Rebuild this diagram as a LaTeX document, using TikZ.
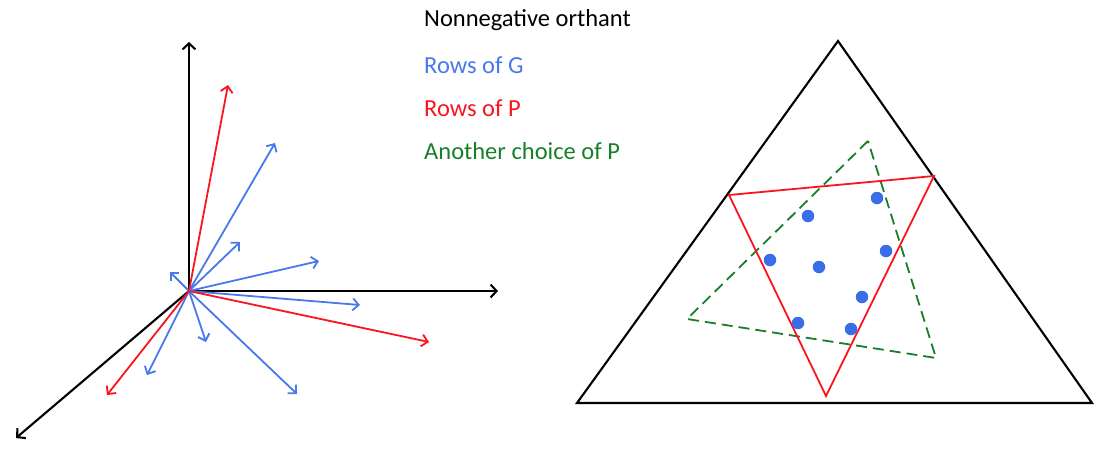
\documentclass[tikz,border=0pt]{standalone}
\usepackage{fontspec}
\setmainfont{Carlito}
\usetikzlibrary{arrows.meta}
\definecolor{gblue}{RGB}{72,120,235}
\definecolor{dotblue}{RGB}{58,110,232}
\definecolor{pred}{RGB}{250,20,30}
\definecolor{pgreen}{RGB}{22,128,40}
\tikzset{
  axis/.style={draw=black,line width=2.1pt,-{Straight Barb[length=6pt,width=13pt,line width=2.1pt]}},
  gvec/.style={draw=gblue,line width=1.8pt,-{Straight Barb[length=6pt,width=12pt,line width=1.8pt]}},
  pvec/.style={draw=pred,line width=1.8pt,-{Straight Barb[length=6pt,width=12pt,line width=1.8pt]}},
  simplex/.style={draw=black,line width=2.1pt,line join=miter},
  ptri/.style={draw=pred,line width=1.8pt},
  alttri/.style={draw=pgreen,line width=1.8pt,dash pattern=on 11pt off 6pt},
  dot/.style={circle,fill=dotblue,inner sep=0pt,minimum size=12.5pt},
  legend/.style={anchor=west,inner sep=0pt,font=\fontsize{24.5}{28}\selectfont}
}
\begin{document}
\begin{tikzpicture}[x=1pt,y=-1pt]
\useasboundingbox (0,0) rectangle (1094,448);
% orthant axes
\coordinate (O) at (189,291);
\coordinate (ax) at (498,291);
\coordinate (ay) at (189,42);
\coordinate (az) at (16,438);
\draw[axis] (O) -- (ay);
\draw[axis] (O) -- (ax);
\draw[axis] (O) -- (az);
% rows of G
\coordinate (g1) at (275,143);
\coordinate (g2) at (240,242);
\coordinate (g3) at (319,261);
\coordinate (g4) at (360,305);
\coordinate (g5) at (170,272);
\coordinate (g6) at (206,342);
\coordinate (g7) at (147,375);
\coordinate (g8) at (297,394);
\foreach \g in {g1,g2,g3,g4,g5,g6,g7,g8} \draw[gvec] (O) -- (\g);
% rows of P
\coordinate (p1) at (228,85);
\coordinate (p2) at (429,342);
\coordinate (p3) at (107,395);
\foreach \p in {p1,p2,p3} \draw[pvec] (O) -- (\p);
% legend
\node[legend,text=black] (l1) at (424,20) {Nonnegative orthant};
\node[legend,text=gblue] (l2) at (424,65) {Rows of G};
\node[legend,text=pred] (l3) at (424,108) {Rows of P};
\node[legend,text=pgreen] (l4) at (424,151) {Another choice of P};
% simplex
\coordinate (s1) at (838,41);
\coordinate (s2) at (577,403);
\coordinate (s3) at (1092,403);
\draw[simplex] (s1) -- (s2) -- (s3) -- cycle;
% another choice of P
\coordinate (q1) at (868,141);
\coordinate (q2) at (687,319);
\coordinate (q3) at (936,358);
\draw[alttri] (q1) -- (q2) -- (q3) -- cycle;
% rows of P triangle
\coordinate (r1) at (729,195);
\coordinate (r2) at (934,176);
\coordinate (r3) at (826,396);
\draw[ptri] (r1) -- (r2) -- (r3) -- cycle;
% rows of G as points
\node[dot] (d1) at (877,198) {};
\node[dot] (d2) at (808,216) {};
\node[dot] (d3) at (770,260) {};
\node[dot] (d4) at (819,267) {};
\node[dot] (d5) at (886,251) {};
\node[dot] (d6) at (862,297) {};
\node[dot] (d7) at (798,323) {};
\node[dot] (d8) at (851,329) {};
\end{tikzpicture}
\end{document}
